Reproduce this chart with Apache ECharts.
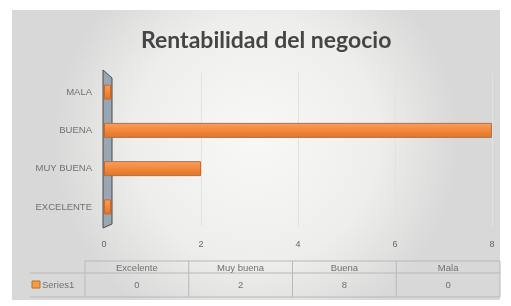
<!DOCTYPE html>
<html><head><meta charset="utf-8">
<script src="https://cdn.jsdelivr.net/npm/echarts@6/dist/echarts.min.js"></script>
<style>html,body{margin:0;padding:0;background:#fff}#c{width:511px;height:306px}</style>
</head><body><div id="c"></div>
<script>
const titleText = 'Rentabilidad del negocio';
const axisCategories = ['EXCELENTE', 'MUY BUENA', 'BUENA', 'MALA'];
const tableHeaders = ['Excelente', 'Muy buena', 'Buena', 'Mala'];
const seriesName = 'Series1';
const seriesValues = [0, 2, 8, 0];
const xTicks = [0, 2, 4, 6, 8];

const chart = echarts.init(document.getElementById('c'), null, {renderer: 'canvas'});

// data table (built from arrays)
const tblLeft = 85, tblRight = 500, tblTop = 261, hdrH = 12, rowH = 24;
const colW = (tblRight - tblLeft) / tableHeaders.length;
const tableGfx = [];
const lineStyle = {stroke: '#b8b8b8', lineWidth: 1};
const txtFont = '9.5px "Liberation Sans"';
tableGfx.push({type: 'line', shape: {x1: tblLeft, y1: tblTop, x2: tblRight, y2: tblTop}, style: lineStyle});
tableGfx.push({type: 'line', shape: {x1: 30, y1: tblTop + hdrH, x2: tblRight, y2: tblTop + hdrH}, style: lineStyle});
tableGfx.push({type: 'line', shape: {x1: 30, y1: tblTop + hdrH + rowH, x2: tblRight, y2: tblTop + hdrH + rowH}, style: lineStyle});
for (let i = 0; i <= tableHeaders.length; i++) {
  const x = tblLeft + i * colW;
  tableGfx.push({type: 'line', shape: {x1: x, y1: tblTop, x2: x, y2: tblTop + hdrH + rowH}, style: lineStyle});
}
tableHeaders.forEach((h, i) => {
  tableGfx.push({type: 'text', x: tblLeft + (i + 0.5) * colW, y: tblTop + hdrH / 2 + 1,
    style: {text: h, fill: '#707070', font: txtFont, align: 'center', verticalAlign: 'middle'}});
  tableGfx.push({type: 'text', x: tblLeft + (i + 0.5) * colW, y: tblTop + hdrH + rowH / 2,
    style: {text: String(seriesValues[i]), fill: '#707070', font: txtFont, align: 'center', verticalAlign: 'middle'}});
});
tableGfx.push({type: 'rect', shape: {x: 32, y: tblTop + hdrH + rowH / 2 - 4, width: 8, height: 7},
  style: {fill: '#f0a040', stroke: '#c06a28'}});
tableGfx.push({type: 'text', x: 42, y: tblTop + hdrH + rowH / 2,
  style: {text: seriesName, fill: '#707070', font: txtFont, align: 'left', verticalAlign: 'middle'}});

chart.setOption({
  animation: false,
  backgroundColor: '#ffffff',
  graphic: [
    {type: 'rect', z: -10, shape: {x: 12, y: 10, width: 488, height: 290},
      style: {fill: new echarts.graphic.RadialGradient(0.5, 0.45, 0.7, [
        {offset: 0, color: '#f8f8f6'}, {offset: 0.6, color: '#eeeeec'}, {offset: 1, color: '#d8d8d8'}])}},
    {type: 'polygon', z: 1, shape: {points: [[103, 70], [112, 78], [112, 224], [103, 228]]},
      style: {fill: '#9aa6b2', stroke: '#4a4a4a', lineWidth: 1}},
    ...tableGfx
  ],
  title: {
    text: titleText, left: 136, top: 24,
    textStyle: {fontFamily: 'Lato', fontWeight: 'bold', fontSize: 23, color: '#454545'}
  },
  grid: {left: 104, right: 19, top: 73, bottom: 80, containLabel: false},
  xAxis: {
    type: 'value', min: xTicks[0], max: xTicks[xTicks.length - 1], interval: 2,
    axisLine: {show: false}, axisTick: {show: false},
    axisLabel: {color: '#666', fontSize: 9, margin: 14, fontFamily: 'Liberation Sans'},
    splitLine: {show: true, lineStyle: {color: '#e2e2e2', width: 1}}
  },
  yAxis: {
    type: 'category', data: axisCategories,
    axisLine: {show: false}, axisTick: {show: false},
    axisLabel: {color: '#707070', fontSize: 9.5, margin: 12, fontFamily: 'Liberation Sans'}
  },
  series: [{
    name: seriesName, type: 'bar', data: seriesValues, z: 5,
    barWidth: 15, barMinHeight: 7,
    itemStyle: {color: new echarts.graphic.LinearGradient(0, 0, 0, 1, [
      {offset: 0, color: '#f8a062'}, {offset: 0.5, color: '#f3873a'}, {offset: 1, color: '#dc752e'}]),
      borderColor: '#c8692a', borderWidth: 1}
  }]
});
</script></body></html>
